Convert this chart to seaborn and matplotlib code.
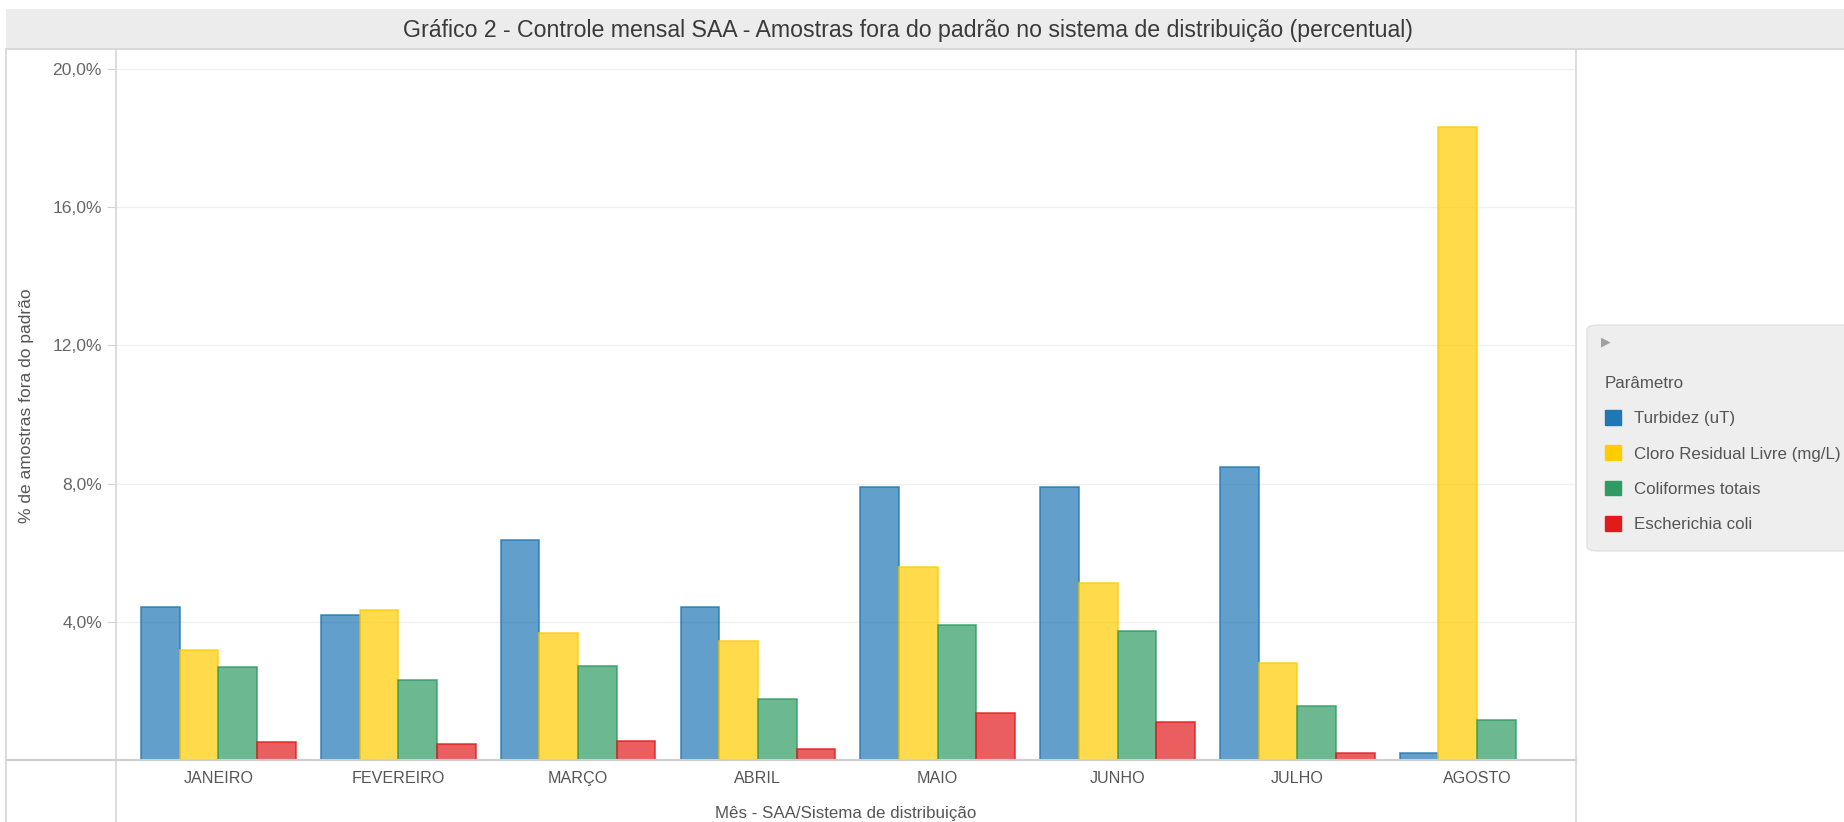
import numpy as np
import pandas as pd
import seaborn as sns
import matplotlib
matplotlib.use("Agg")
import matplotlib.pyplot as plt
from matplotlib.lines import Line2D
from matplotlib.patches import Patch, FancyBboxPatch, Rectangle
from matplotlib.ticker import FuncFormatter
from matplotlib.colors import to_rgb

# Monthly share (%) of out-of-standard samples in the distribution system
meses = ["JANEIRO", "FEVEREIRO", "MARÇO", "ABRIL", "MAIO", "JUNHO", "JULHO", "AGOSTO"]
parametros = ["Turbidez (uT)", "Cloro Residual Livre (mg/L)", "Coliformes totais", "Escherichia coli"]
turbidez = [4.43, 4.20, 6.37, 4.43, 7.90, 7.90, 8.48, 0.19]
cloro = [3.19, 4.34, 3.69, 3.45, 5.60, 5.12, 2.82, 18.33]
coliformes = [2.68, 2.31, 2.72, 1.76, 3.92, 3.73, 1.56, 1.15]
ecoli = [0.52, 0.46, 0.56, 0.33, 1.35, 1.11, 0.19, np.nan]
cores = ["#1f77b4", "#ffcc00", "#2e9b62", "#e31a1c"]
y_ticks = [4, 8, 12, 16, 20]

series = [turbidez, cloro, coliformes, ecoli]
df = pd.DataFrame({
    "mes": np.repeat([meses], len(parametros), axis=0).ravel(),
    "parametro": np.repeat(parametros, len(meses)),
    "valor": np.concatenate(series),
})

sns.set_theme(style="white")
plt.rcParams["font.family"] = ["Liberation Sans", "DejaVu Sans"]

W, H = 1844, 822
fig = plt.figure(figsize=(W / 100, H / 100), dpi=100)


def fx(px):
    return px / W


def fy(py):
    return 1 - py / H


x0, x1, y0, y1 = 116, 1576, 49, 760
ax = fig.add_axes([fx(x0), fy(y1), fx(x1 - x0), (y1 - y0) / H])

sns.barplot(data=df, x="mes", y="valor", hue="parametro", order=meses,
            hue_order=parametros, palette=cores, width=0.86, ax=ax,
            errorbar=None, legend=False, saturation=1)

# translucent fill with a solid outline, per series
for cont, cor in zip(ax.containers, cores):
    r, g, b = to_rgb(cor)
    for bar in cont:
        bar.set_facecolor((r, g, b, 0.7))
        bar.set_edgecolor((r, g, b, 0.8))
        bar.set_linewidth(1.2)

ax.set_xlim(-0.57, 7.55)
ax.set_ylim(0, 20.58)
ax.set_yticks(y_ticks)
ax.yaxis.set_major_formatter(FuncFormatter(lambda v, p: f"{v:.1f}%".replace(".", ",")))
ax.yaxis.grid(True, color="#f0f0f0", lw=1)
ax.set_axisbelow(True)
for s in ax.spines.values():
    s.set_visible(False)
ax.tick_params(axis="y", length=6.5, width=0.8, color="#d4d4d4", pad=3.6,
               labelsize=12.6, labelcolor="#666666", left=True)
ax.tick_params(axis="x", length=0, pad=8, labelsize=11.6, labelcolor="#555555")
ax.set_xlabel("")
ax.set_ylabel("")
ax.patch.set_alpha(0)

# frame lines of the panes
linha = dict(color="#d6d6d6", lw=1.2, transform=fig.transFigure)
fig.add_artist(Line2D([fx(6), fx(6)], [fy(49), 0], **linha))
fig.add_artist(Line2D([fx(x0), fx(x0)], [fy(49), 0], **linha))
fig.add_artist(Line2D([fx(x1), fx(x1)], [fy(49), 0], **linha))
fig.add_artist(Line2D([fx(6), fx(x1)], [fy(y1), fy(y1)], color="#cfcfcf", lw=1.5,
                      transform=fig.transFigure))

# title band
fig.add_artist(Rectangle((fx(6), fy(49)), 1 - fx(6), (49 - 9) / H,
                         transform=fig.transFigure, facecolor="#ececec",
                         edgecolor="none", zorder=0))
fig.add_artist(Line2D([fx(6), 1], [fy(49), fy(49)], color="#d9d9d9", lw=1.5,
                      transform=fig.transFigure))
fig.text(fx(908), fy(30), "Gráfico 2 - Controle mensal SAA - Amostras fora do padrão no sistema de distribuição (percentual)",
         ha="center", va="center", fontsize=16.7, color="#3a3a3a")

# axis titles
fig.text(fx(27), fy(406), "% de amostras fora do padrão", rotation=90,
         ha="center", va="center", fontsize=12.5, color="#555555")
fig.text(fx(846), fy(813), "Mês - SAA/Sistema de distribuição",
         ha="center", va="center", fontsize=12.2, color="#555555")

# legend panel
fig.add_artist(FancyBboxPatch((fx(1587), fy(551)), fx(300), (551 - 325) / H,
                              boxstyle="round,pad=0,rounding_size=0.006",
                              transform=fig.transFigure, facecolor="#eeeeee",
                              edgecolor="#e2e2e2", lw=1, zorder=0))
fig.text(fx(1601), fy(342), "▶", family="DejaVu Sans", fontsize=9,
         color="#a0a0a0", ha="left", va="center")
handles = [Patch(facecolor=c, edgecolor=c) for c in cores]
leg = fig.legend(handles, parametros, title="Parâmetro", loc="upper left",
                 bbox_to_anchor=(fx(1605), fy(376)), frameon=False,
                 handlelength=0.95, handleheight=0.95, handletextpad=0.78,
                 labelspacing=1.13, fontsize=12.2, title_fontsize=12.2,
                 alignment="left", borderaxespad=0, borderpad=0)
leg.get_title().set_color("#555555")
for t in leg.get_texts():
    t.set_color("#555555")

fig.savefig("out.png", dpi=100, facecolor="white")
